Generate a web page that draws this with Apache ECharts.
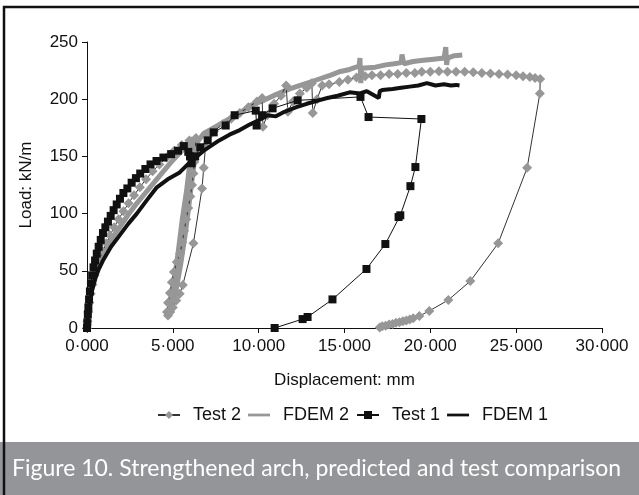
<!DOCTYPE html>
<html>
<head>
<meta charset="utf-8">
<script src="https://cdn.jsdelivr.net/npm/echarts@6/dist/echarts.min.js"></script>
<style>html,body{margin:0;padding:0;background:#fff;}#c{width:639px;height:495px;}</style>
</head>
<body>
<div id="c"></div>
<script>
// Displacement (mm), Load (kN/m)
const test2 = [
  [0,0],[0.03,6],[0.08,14],[0.14,22],[0.22,30],[0.32,38],[0.44,46],[0.58,53],[0.74,60],[0.92,67],
  [1.12,74],[1.34,81],[1.58,88],[1.84,95],[2.12,102],[2.42,109],[2.74,116],[3.08,123],[3.44,130],
  [3.82,137],[4.22,143],[4.64,149],[5.08,155],[5.52,160],[5.96,164],[6.35,166],
  [6.3,155],[6.25,145],[6.2,135],[6.12,125],[6.02,115],[5.9,105],[5.78,95],[5.66,85],[5.55,75],
  [5.42,65],[5.23,57.7],[5.06,49],[4.94,40],[4.83,30.6],[4.72,22],[4.66,14],[4.72,11],[4.85,14],
  [5.0,18],[5.2,24],[5.4,30],[5.58,37.6],[6.2,74],[6.7,122],[6.8,140],[6.9,158],[7.1,168],
  [7.4,172],[7.9,178],[8.4,183],[8.9,188],[9.4,193],[9.9,198],[10.2,201],[10.25,176],[10.5,186],
  [10.9,196],[11.3,203],[11.6,212],[11.7,189],[12.0,198],[12.4,205],[12.8,210],[13.1,214],
  [13.15,188],[13.4,200],[13.7,212],[14.1,213],[14.7,215],[15.2,217],[15.7,219],[16.2,220],
  [16.6,221],[17.1,221],[17.6,222],[18.1,222],[18.6,223],[19.1,223],[19.5,224],[20.0,224],
  [20.5,224.5],[21.0,224],[21.5,224],[22.0,224],[22.5,223.5],[23.0,223],[23.5,222.5],[24.0,222],
  [24.5,221.5],[25.0,221],[25.4,220],[25.8,219.5],[26.1,218.5],[26.4,217.6],[26.38,205],
  [25.64,140],[23.95,74],[22.33,41],[21.05,24.5],[19.94,14.9],[19.36,10.5],[19.0,8.5],[18.8,7.5],
  [18.6,6.5],[18.4,6],[18.2,5],[18.0,4.5],[17.8,3.5],[17.6,3],[17.4,2],[17.2,1.5],[17.05,0.5]
];
const fdem2 = [
  [0,0],[0.05,12],[0.15,25],[0.3,36],[0.5,47],[0.75,58],[1.0,66],[1.4,77],[1.9,88],[2.4,99],
  [2.9,109],[3.4,118],[3.9,127],[4.4,136],[4.9,145],[5.4,153],[5.9,160],[6.2,166],
  [6.0,145],[5.8,120],[5.55,95],[5.3,65],[5.05,38],[4.85,20],[4.75,13],[4.9,16],[5.15,30],
  [5.45,55],[5.75,85],[6.0,115],[6.2,140],[6.4,162],[6.8,170],
  [7.5,176],[8.2,182],[8.9,188],[9.6,195],[10.3,199],[11.0,204],[11.8,209],[12.6,213],[13.4,217],
  [14.2,221],[14.7,224],[15.3,226],[15.85,229],[15.9,236],[15.95,214],[16.0,227],[16.8,228],
  [17.4,230],[17.9,231],[18.3,232],[18.35,239],[18.45,231],[19.0,233],[19.6,234],[20.2,235],
  [20.8,236],[20.9,245.6],[20.95,230],[21.0,236],[21.4,238],[21.86,238.6]
];
const test1 = [
  [0,0],[0.02,5],[0.05,12],[0.08,18],[0.12,25],[0.17,32],[0.23,39],[0.3,46],[0.38,53],[0.47,59],
  [0.57,65],[0.68,71],[0.8,77],[0.93,83],[1.07,88],[1.22,93],[1.38,98],[1.55,103],[1.73,108],
  [1.92,113],[2.12,118],[2.35,122],[2.6,127],[2.85,131],[3.1,135],[3.4,139],[3.7,143],[4.05,146],
  [4.45,149],[4.9,152],[5.3,155],[5.64,159],[5.9,154],[6.0,150],[6.1,144],[6.3,150],[6.6,158],
  [7.03,164],[7.38,171],[8.08,177],[8.6,186],[9.83,190],[9.88,177],[10.2,186],[10.81,192],
  [12.27,199],[15.93,202],[16.4,184.4],[19.48,182.7],[19.13,140.7],[18.84,124],[18.25,98.5],
  [18.15,97],[17.38,73.4],[16.28,51.6],[14.3,25],[12.85,9.6],[12.56,7.8],[10.93,0]
];
const fdem1 = [
  [0,0],[0.05,10],[0.15,22],[0.3,33],[0.5,44],[0.7,52],[0.93,59],[1.4,71],[1.9,81],[2.4,91],
  [2.9,100],[3.5,112],[4.07,123],[4.7,130],[5.4,136],[6.0,145],[6.8,155],[7.7,164],[8.3,169],
  [8.9,173],[9.5,178],[10.06,182],[10.5,186],[11.0,185],[11.5,189],[12.2,193],[12.8,196],
  [13.5,199],[14.0,201],[14.6,203],[15.3,206],[15.9,205],[16.3,207],[17.0,201],[17.05,207],
  [17.2,208],[17.8,209],[18.3,210],[18.8,211],[19.3,212],[19.8,214],[20.3,212],[20.8,213],
  [21.2,212],[21.5,212.5],[21.7,212]
];
const seriesNames = ['Test 2', 'FDEM 2', 'Test 1', 'FDEM 1'];
const xTicks = {min: 0, max: 30, step: 5};
const yTicks = {min: 0, max: 250, step: 50};
const caption = 'Figure 10. Strengthened arch, predicted and test comparison';

const chart = echarts.init(document.getElementById('c'), null, {renderer: 'canvas'});
const GRAY = '#979797';
const font = 'Liberation Sans, Arial, sans-serif';
const lineIcon = 'path://M0,0h24v3h-24z';
chart.setOption({
  animation: false,
  backgroundColor: '#fff',
  grid: {left: 87, right: 37, top: 42, bottom: 167, containLabel: false},
  legend: {
    data: [
      {name: seriesNames[0]},
      {name: seriesNames[1], icon: lineIcon},
      {name: seriesNames[2]},
      {name: seriesNames[3], icon: lineIcon}
    ],
    left: 152, top: 401, itemGap: 7, itemWidth: 22, itemHeight: 10,
    textStyle: {fontFamily: font, fontSize: 18, color: '#111', padding: [0, 0, 0, 8]}
  },
  xAxis: {
    type: 'value', min: xTicks.min, max: xTicks.max, interval: xTicks.step,
    name: 'Displacement: mm', nameLocation: 'middle', nameGap: 44,
    nameTextStyle: {fontFamily: font, fontSize: 17, color: '#111'},
    axisLine: {show: true, lineStyle: {color: '#111', width: 1}},
    axisTick: {show: true, length: 5, lineStyle: {color: '#111'}},
    axisLabel: {fontFamily: font, fontSize: 17, color: '#111', margin: 10,
      formatter: v => v.toFixed(3).replace('.', '\u00b7')},
    splitLine: {show: false}
  },
  yAxis: {
    type: 'value', min: yTicks.min, max: yTicks.max, interval: yTicks.step,
    name: 'Load: kN/m', nameLocation: 'middle', nameGap: 52, nameRotate: 90,
    nameTextStyle: {fontFamily: font, fontSize: 17, color: '#111'},
    axisLine: {show: true, lineStyle: {color: '#111', width: 1}},
    axisTick: {show: true, length: 5, lineStyle: {color: '#111'}},
    axisLabel: {fontFamily: font, fontSize: 17, color: '#111', margin: 9},
    splitLine: {show: false}
  },
  series: [
    {name: 'FDEM 2', type: 'line', data: fdem2, showSymbol: false, symbol: 'none', z: 2,
     lineStyle: {color: GRAY, width: 5}, itemStyle: {color: GRAY}},
    {name: 'Test 2', type: 'line', data: test2, symbol: 'diamond', symbolSize: 10, z: 3,
     lineStyle: {color: '#333', width: 1}, itemStyle: {color: GRAY, borderWidth: 0}},
    {name: 'FDEM 1', type: 'line', data: fdem1, showSymbol: false, symbol: 'none', z: 4,
     lineStyle: {color: '#111', width: 4}, itemStyle: {color: '#111'}},
    {name: 'Test 1', type: 'line', data: test1, symbol: 'rect', symbolSize: 8, z: 5,
     lineStyle: {color: '#111', width: 1}, itemStyle: {color: '#111', borderWidth: 0}}
  ],
  graphic: [
    {type: 'rect', shape: {x: 0, y: 442, width: 639, height: 53}, style: {fill: '#939598'}, z: 10},
    {type: 'text', x: 12, y: 469, style: {text: caption, fill: '#fff', font: '23px Lato, sans-serif',
      textVerticalAlign: 'middle', verticalAlign: 'middle'}, z: 11},
    {type: 'rect', shape: {x: 4, y: 7, width: 700, height: 600},
     style: {fill: 'none', stroke: '#111', lineWidth: 2.5}, z: 12}
  ]
});
</script>
</body>
</html>
